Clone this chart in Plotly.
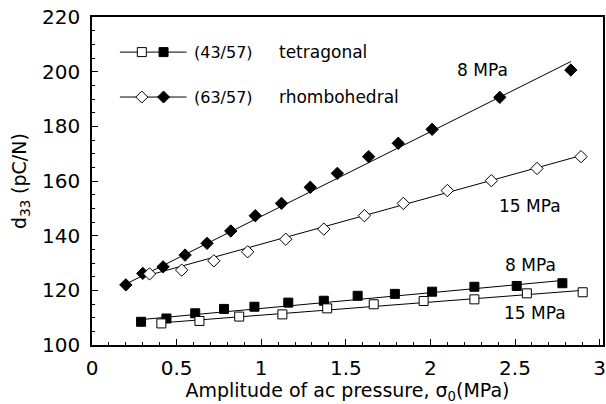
import plotly.graph_objects as go

# ---- data ----
rh8_x = [0.20, 0.30, 0.42, 0.55, 0.68, 0.82, 0.965, 1.12, 1.29, 1.45, 1.635, 1.81, 2.01, 2.41, 2.83]
rh8_y = [122.0, 126.2, 128.6, 132.9, 137.2, 141.7, 147.3, 151.8, 157.7, 162.8, 168.9, 173.8, 178.9, 190.6, 200.6]
rh15_x = [0.34, 0.53, 0.72, 0.92, 1.145, 1.37, 1.61, 1.84, 2.10, 2.36, 2.63, 2.89]
rh15_y = [126.0, 127.4, 130.8, 134.1, 138.7, 142.4, 147.3, 151.8, 156.5, 160.1, 164.6, 168.9]
te8_x = [0.29, 0.44, 0.61, 0.78, 0.96, 1.16, 1.37, 1.57, 1.79, 2.01, 2.26, 2.51, 2.78]
te8_y = [108.5, 109.7, 111.6, 113.2, 114.0, 115.5, 116.2, 118.0, 118.7, 119.5, 121.3, 121.6, 122.6]
te15_x = [0.41, 0.635, 0.87, 1.125, 1.39, 1.665, 1.96, 2.26, 2.57, 2.90]
te15_y = [107.9, 108.8, 110.4, 111.2, 113.4, 114.9, 116.1, 116.7, 118.9, 119.3]

# fitted straight lines (end points)
rh8_fit_x = [0.20, 2.83]
rh8_fit_y = [122.3, 203.7]
rh15_fit_x = [0.34, 2.89]
rh15_fit_y = [125.6, 169.3]
te8_fit_x = [0.29, 2.78]
te8_fit_y = [109.3, 123.6]
te15_fit_x = [0.41, 2.90]
te15_fit_y = [108.1, 120.0]

legend_codes = ["(43/57)", "(63/57)"]
legend_names = ["tetragonal", "rhombohedral"]
curve_labels = ["8 MPa", "15 MPa", "8 MPa", "15 MPa"]
label_x = [2.31, 2.59, 2.59, 2.62]
label_y = [200.7, 150.9, 129.3, 111.6]

FONT = "DejaVu Sans, Liberation Sans, Arial"

fig = go.Figure()
for fx, fy in [(rh8_fit_x, rh8_fit_y), (rh15_fit_x, rh15_fit_y), (te8_fit_x, te8_fit_y), (te15_fit_x, te15_fit_y)]:
    fig.add_trace(go.Scatter(x=fx, y=fy, mode="lines", line=dict(color="black", width=1), showlegend=False, hoverinfo="skip"))

def mk(x, y, symbol, fill, size):
    fig.add_trace(go.Scatter(x=x, y=y, mode="markers", showlegend=False,
                             marker=dict(symbol=symbol, size=size, color=fill, line=dict(color="black", width=1))))

mk(rh8_x, rh8_y, "diamond", "black", 9.5)
mk(rh15_x, rh15_y, "diamond", "white", 9.5)
mk(te8_x, te8_y, "square", "black", 9)
mk(te15_x, te15_y, "square", "white", 9)

# curve annotations
for t, x, y in zip(curve_labels, label_x, label_y):
    fig.add_annotation(x=x, y=y, text=t, showarrow=False, font=dict(family=FONT, size=17, color="black"))

# hand-drawn legend (paper coordinates)
leg_y = [0.893, 0.756]
shapes = []
for i, yy in enumerate(leg_y):
    shapes.append(dict(type="line", xref="paper", yref="paper", x0=0.0546, x1=0.185, y0=yy, y1=yy,
                       line=dict(color="black", width=1)))
    for xx, fill in [(0.0975, "white"), (0.14, "black")]:
        if i == 0:
            shapes.append(dict(type="rect", xref="paper", yref="paper", xsizemode="pixel", ysizemode="pixel",
                               xanchor=xx, yanchor=yy, x0=-4.5, x1=4.5, y0=-4.5, y1=4.5,
                               fillcolor=fill, line=dict(color="black", width=1)))
        else:
            shapes.append(dict(type="path", xref="paper", yref="paper", xsizemode="pixel", ysizemode="pixel",
                               xanchor=xx, yanchor=yy, path="M 0 6 L 6 0 L 0 -6 L -6 0 Z",
                               fillcolor=fill, line=dict(color="black", width=1)))
    fig.add_annotation(xref="paper", yref="paper", x=0.195, y=yy, xanchor="left", yanchor="middle",
                       text=legend_codes[i], showarrow=False, font=dict(family=FONT, size=16, color="black"))
    fig.add_annotation(xref="paper", yref="paper", x=0.362, y=yy, xanchor="left", yanchor="middle",
                       text=legend_names[i], showarrow=False, font=dict(family=FONT, size=17, color="black"))

fig.update_layout(
    width=606, height=404,
    margin=dict(l=92, r=1, t=17, b=59),
    paper_bgcolor="white", plot_bgcolor="white",
    shapes=shapes,
    font=dict(family=FONT, color="black"),
    xaxis=dict(range=[0, 3.02], tickvals=[0, 0.5, 1, 1.5, 2, 2.5, 3], ticktext=["0", "0.5", "1", "1.5", "2", "2.5", "3"],
               ticks="inside", ticklen=6, tickcolor="black", showline=True, linecolor="black", linewidth=1.5,
               mirror=True, showgrid=False, zeroline=False, tickfont=dict(size=20, family=FONT),
               ticklabelstandoff=4,
               minor=dict(dtick=0.1, ticks="inside", ticklen=3, tickcolor="black", showgrid=False),
               title=dict(text="Amplitude of ac pressure, σ<sub>0</sub>(MPa)", font=dict(size=19, family=FONT), standoff=2)),
    yaxis=dict(range=[100, 220], dtick=20, ticks="inside", ticklen=6, tickcolor="black", showline=True,
               linecolor="black", linewidth=1.5, mirror=True, showgrid=False, zeroline=False,
               tickfont=dict(size=20, family=FONT), ticklabelstandoff=6,
               minor=dict(dtick=5, ticks="inside", ticklen=3, tickcolor="black", showgrid=False),
               title=dict(text="d<sub>33</sub> (pC/N)", font=dict(size=19, family=FONT), standoff=10)),
)

fig.write_html("out.html")
